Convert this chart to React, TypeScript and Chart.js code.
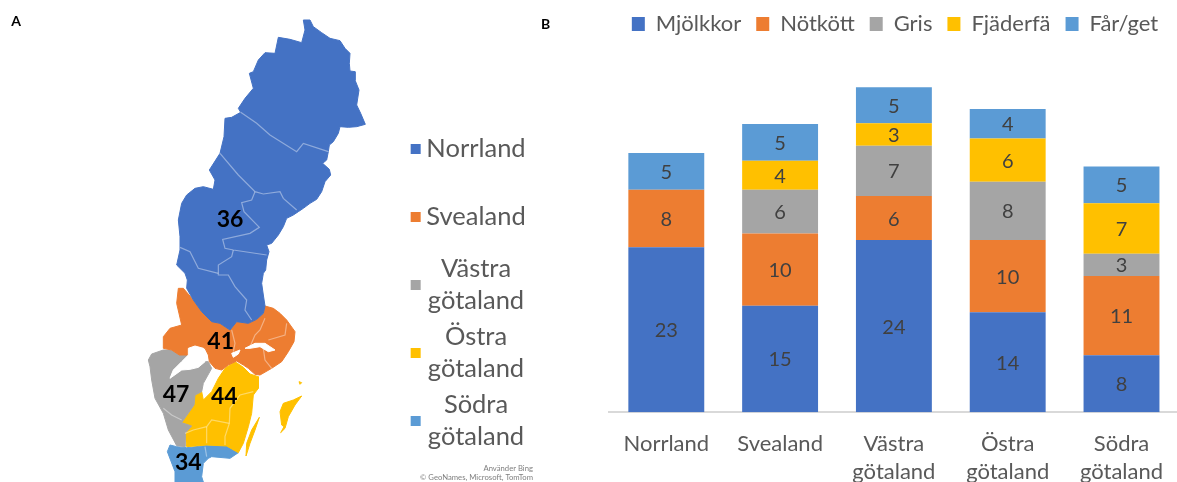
import React, { useEffect, useRef } from "react";
import { Chart, registerables } from "chart.js";

Chart.register(...registerables);

const FONT = "Lato, 'Open Sans', sans-serif";
const TEXT = "#595959";
const BLUE = "#4472C4";
const ORANGE = "#ED7D31";
const GRAY = "#A5A5A5";
const YELLOW = "#FFC000";
const LIGHT = "#5B9BD5";

// Panel B
const categories = [["Norrland"], ["Svealand"], ["Västra", "götaland"], ["Östra", "götaland"], ["Södra", "götaland"]];
const mjolkkor = [22.9, 14.8, 23.9, 13.9, 7.9];
const notkott = [8.0, 10.0, 6.1, 10.0, 11.0];
const gris = [0, 6.1, 7.0, 8.1, 3.1];
const fjaderfa = [0, 4.0, 3.1, 6.0, 7.0];
const farget = [5.1, 5.1, 5.0, 4.1, 5.1];

// Panel A: outlines in map units
type P = number[][];
const norrland: P = [[910,60],[930,60],[940,80],[965,98],[990,115],[1020,122],[1035,145],[1050,160],[1048,190],[1050,213],[1065,215],[1065,240],[1077,270],[1070,315],[1082,340],[1096,373],[1070,380],[1045,382],[1020,380],[1015,400],[1000,425],[988,435],[985,455],[980,480],[968,490],[988,508],[992,525],[975,545],[965,575],[950,598],[930,610],[910,625],[895,635],[880,645],[860,655],[850,680],[835,705],[815,730],[800,735],[807,755],[800,780],[797,810],[790,820],[785,850],[790,885],[795,918],[790,940],[770,958],[745,970],[710,965],[690,990],[660,970],[635,965],[605,935],[580,900],[560,865],[562,840],[555,820],[530,795],[540,750],[540,710],[535,660],[545,610],[560,585],[585,565],[610,560],[640,568],[645,540],[628,510],[660,460],[672,410],[675,355],[695,352],[722,337],[715,325],[735,295],[760,265],[748,220],[760,215],[775,180],[795,158],[825,160],[835,112],[870,118],[905,128],[915,90],[910,60]];
const svealand: P = [[535,865],[550,865],[580,900],[605,935],[635,965],[660,970],[690,990],[710,965],[745,970],[770,958],[790,940],[795,918],[820,925],[840,940],[860,960],[885,995],[882,1025],[865,1055],[845,1085],[815,1105],[780,1125],[765,1123],[745,1105],[730,1095],[710,1083],[685,1095],[665,1110],[645,1105],[628,1085],[625,1065],[615,1045],[585,1038],[565,1045],[565,1065],[538,1065],[515,1050],[490,1045],[490,1010],[510,985],[545,975],[530,910],[535,865]];
const vastra: P = [[445,1080],[455,1062],[490,1050],[515,1050],[538,1065],[565,1065],[550,1080],[520,1110],[510,1135],[545,1110],[570,1108],[595,1102],[615,1085],[625,1085],[635,1105],[610,1150],[605,1175],[585,1185],[582,1215],[545,1268],[575,1278],[555,1300],[555,1340],[530,1337],[505,1290],[490,1240],[465,1195],[455,1140],[450,1100],[445,1080]];
const ostra: P = [[705,1085],[730,1102],[750,1122],[775,1130],[775,1165],[760,1185],[755,1240],[745,1280],[730,1330],[715,1358],[680,1338],[620,1335],[560,1340],[555,1300],[575,1278],[545,1268],[582,1215],[585,1185],[605,1175],[610,1200],[635,1175],[655,1135],[675,1105],[705,1085]];
const oland: P = [[778,1252],[765,1290],[750,1330],[738,1368],[740,1330],[755,1290],[778,1252]];
const gotland: P = [[905,1188],[880,1200],[850,1210],[840,1235],[845,1275],[852,1280],[842,1298],[855,1285],[865,1250],[885,1215],[905,1188]];
const sandon: P = [[897,1145],[905,1148],[900,1153],[897,1145]];
const sodra: P = [[510,1335],[530,1340],[560,1343],[615,1337],[680,1338],[715,1358],[690,1375],[635,1370],[625,1375],[610,1390],[605,1430],[610,1446],[525,1446],[525,1415],[502,1355],[510,1335]];
const lakes: P[] = [
  [[695,1060],[720,1050],[715,1062],[700,1072],[695,1060]],
  [[735,1045],[765,1030],[795,1030],[825,1050],[805,1055],[780,1040],[750,1045],[735,1045]],
  [[565,1045],[585,1038],[610,1045],[615,1085],[595,1102],[570,1108],[545,1110],[510,1135],[520,1110],[545,1085],[565,1065],[565,1045]],
];
const borders: P[] = [
  [[722,337],[770,370],[810,405],[890,455],[910,430],[985,455]],
  [[660,460],[715,525],[765,575],[790,582],[840,575],[850,595],[890,630]],
  [[765,575],[755,600],[725,608],[732,635],[778,682],[750,700],[668,718],[675,745],[700,750],[800,765]],
  [[700,750],[695,770],[655,795],[655,825],[685,825],[705,860],[740,900],[735,930],[755,960]],
  [[540,742],[570,755],[595,805],[655,820]],
  [[795,955],[780,990],[765,1005],[750,1040]],
  [[860,970],[855,1005],[805,1020]],
  [[695,990],[705,1030],[700,1055]],
  [[790,1045],[795,1080],[815,1105]],
  [[760,1175],[720,1185],[690,1225],[688,1270],[675,1310],[675,1335]],
  [[555,1300],[580,1290],[620,1280],[635,1260],[688,1270]],
  [[620,1280],[620,1330]],
  [[490,1225],[515,1245],[545,1260]],
  [[615,1340],[620,1370]],
];
const mapValues = [
  { text: "36", x: 690, y: 660 },
  { text: "41", x: 662, y: 1025 },
  { text: "47", x: 528, y: 1183 },
  { text: "44", x: 673, y: 1190 },
  { text: "34", x: 565, y: 1388 },
];
const mapLegend = [
  { lines: ["Norrland"], color: BLUE, y: 447 },
  { lines: ["Svealand"], color: ORANGE, y: 651 },
  { lines: ["Västra", "götaland"], color: GRAY, y: 855 },
  { lines: ["Östra", "götaland"], color: YELLOW, y: 1059 },
  { lines: ["Södra", "götaland"], color: LIGHT, y: 1263 },
];
const credits = ["Använder Bing", "© GeoNames, Microsoft, TomTom"];

const pts = (p: P) => p.map(([x, y]) => ({ x, y }));
const region = (p: P, color: string) => ({
  data: pts(p),
  showLine: true,
  fill: "shape",
  backgroundColor: color,
  borderColor: color,
  borderWidth: 1,
  pointRadius: 0,
  tension: 0,
  order: 10,
});

const mapPlugin = {
  id: "mapText",
  afterDatasetsDraw(chart: any) {
    const { ctx, scales } = chart;
    const X = (v: number) => scales.x.getPixelForValue(v);
    const Y = (v: number) => scales.y.getPixelForValue(v);
    ctx.save();
    ctx.textAlign = "center";
    ctx.textBaseline = "middle";
    ctx.fillStyle = "#000";
    ctx.font = `bold 23px ${FONT}`;
    mapValues.forEach((m) => ctx.fillText(m.text, X(m.x), Y(m.y)));
    ctx.font = `bold 14px ${FONT}`;
    ctx.fillText("A", X(48), Y(64));
    ctx.fillText("B", X(1637), Y(73));
    mapLegend.forEach((l) => {
      ctx.fillStyle = l.color;
      ctx.fillRect(X(1232), Y(l.y) - 5, 10, 10);
      ctx.fillStyle = TEXT;
      ctx.font = `25.5px ${FONT}`;
      const gap = 32;
      l.lines.forEach((t, i) => {
        const y = Y(l.y) + (i - (l.lines.length - 1) / 2) * gap;
        ctx.fillText(t, X(1428), y);
      });
    });
    ctx.fillStyle = "#7f7f7f";
    ctx.font = `7.7px ${FONT}`;
    ctx.textAlign = "right";
    ctx.fillText(credits[0], X(1599), Y(1407));
    ctx.fillText(credits[1], X(1599), Y(1434));
    ctx.restore();
  },
};

const barLabels = {
  id: "barLabels",
  afterDatasetsDraw(chart: any) {
    const { ctx } = chart;
    ctx.save();
    ctx.font = `20px ${FONT}`;
    ctx.fillStyle = "#404040";
    ctx.textAlign = "center";
    ctx.textBaseline = "middle";
    chart.data.datasets.forEach((ds: any, i: number) => {
      chart.getDatasetMeta(i).data.forEach((bar: any, j: number) => {
        if (!ds.data[j]) return;
        ctx.fillText(String(Math.round(ds.data[j])), bar.x, (bar.y + bar.base) / 2 + 1);
      });
    });
    ctx.restore();
  },
};

export default function App() {
  const mapRef = useRef<HTMLCanvasElement>(null);
  const barRef = useRef<HTMLCanvasElement>(null);

  useEffect(() => {
    const map = new Chart(mapRef.current!, {
      type: "scatter",
      data: {
        datasets: [
          region(norrland, BLUE),
          region(svealand, ORANGE),
          region(vastra, GRAY),
          region(ostra, YELLOW),
          region(oland, YELLOW),
          region(gotland, YELLOW),
          region(sandon, YELLOW),
          region(sodra, LIGHT),
          ...lakes.map((l) => ({ ...region(l, "#ffffff"), order: 5 })),
          ...borders.map((b) => ({
            data: pts(b),
            showLine: true,
            fill: false,
            borderColor: "rgba(255,255,255,0.4)",
            borderWidth: 1.2,
            pointRadius: 0,
            tension: 0,
            order: 1,
          })),
        ] as any,
      },
      options: {
        animation: false,
        responsive: false,
        events: [],
        layout: { padding: 0 },
        plugins: { legend: { display: false }, tooltip: { enabled: false } },
        scales: {
          x: { type: "linear", display: false, min: 0, max: 1800 },
          y: { type: "linear", display: false, min: 0, max: 1446, reverse: true },
        },
      },
      plugins: [mapPlugin],
    });

    const hiddenAxis = {
      grid: { display: false },
      border: { display: false },
      ticks: { display: false },
    };
    const bar = new Chart(barRef.current!, {
      type: "bar",
      data: {
        labels: categories as any,
        datasets: [
          { label: "Mjölkkor", data: mjolkkor, backgroundColor: BLUE },
          { label: "Nötkött", data: notkott, backgroundColor: ORANGE },
          { label: "Gris", data: gris, backgroundColor: GRAY },
          { label: "Fjäderfä", data: fjaderfa, backgroundColor: YELLOW },
          { label: "Får/get", data: farget, backgroundColor: LIGHT },
        ],
      },
      options: {
        animation: false,
        responsive: false,
        events: [],
        layout: { padding: { left: 0, top: -2, right: 0, bottom: 0 } },
        datasets: { bar: { categoryPercentage: 1, barPercentage: 0.667 } },
        plugins: {
          tooltip: { enabled: false },
          legend: {
            position: "top",
            labels: {
              boxWidth: 13,
              boxHeight: 14,
              padding: 15,
              color: TEXT,
              font: { family: FONT, size: 22 },
            },
          },
        },
        scales: {
          x: {
            stacked: true,
            grid: { display: false },
            border: { display: true, color: "#D9D9D9", width: 2 },
            ticks: {
              color: TEXT,
              padding: 10,
              maxRotation: 0,
              autoSkip: false,
              font: { family: FONT, size: 22, lineHeight: 1.27 },
            },
            afterFit: (s: any) => {
              s.height = 69.7;
            },
          },
          y: {
            ...hiddenAxis,
            stacked: true,
            min: 0,
            max: 50.97,
            afterFit: (s: any) => {
              s.width = 24.4;
            },
          },
          yRight: {
            ...hiddenAxis,
            position: "right",
            afterFit: (s: any) => {
              s.width = 26.6;
            },
          },
        },
      },
      plugins: [barLabels],
    });

    return () => {
      map.destroy();
      bar.destroy();
    };
  }, []);

  const canvasStyle = { position: "absolute", top: 0, filter: "blur(0.4px)" } as const;
  return (
    <div style={{ position: "absolute", left: 0, top: 0, width: 1177, height: 482, overflow: "hidden", background: "#fff" }}>
      <canvas ref={mapRef} width={600} height={482} style={{ ...canvasStyle, left: 0 }} />
      <canvas ref={barRef} width={620} height={482} style={{ ...canvasStyle, left: 585 }} />
    </div>
  );
}
